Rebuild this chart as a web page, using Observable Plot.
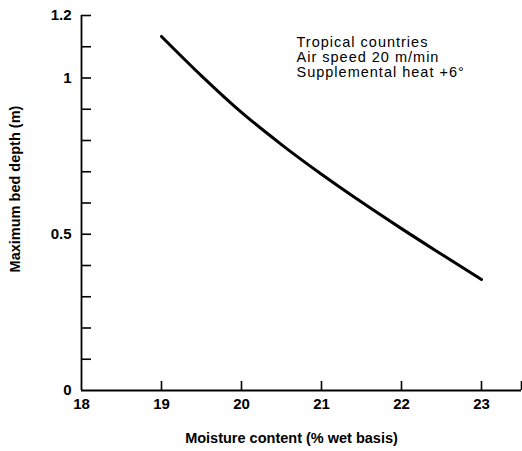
<!DOCTYPE html>
<html><head><meta charset="utf-8">
<script src="https://cdn.jsdelivr.net/npm/d3@7"></script>
<script src="https://cdn.jsdelivr.net/npm/@observablehq/plot@0.6"></script>
<style>
body{margin:0;background:#fff;}
svg{font-family:"Liberation Sans",Arial,sans-serif;}
</style>
</head><body><div id="chart"></div>
<script>
const moisture = [19, 19.5, 20, 20.5, 21, 21.5, 22, 22.5, 23];
const bedDepth = [1.133, 1.007, 0.890, 0.787, 0.692, 0.603, 0.518, 0.436, 0.355];
const xTickLabels = [18, 19, 20, 21, 22, 23];
const xTickMarks = [19, 20, 21, 22, 23, 23.5];
const yTickLabels = [0, 0.5, 1, 1.2];
const yTickMarks = [0.1,0.2,0.3,0.4,0.5,0.6,0.7,0.8,0.9,1.0,1.1,1.2];
const notes = ["Tropical countries", "Air speed 20 m/min", "Supplemental heat +6°"];
const xTitle = "Moisture content (% wet basis)";
const yTitle = "Maximum bed depth (m)";

const data = moisture.map((x, i) => ({x, y: bedDepth[i]}));

const chart = Plot.plot({
  width: 522, height: 451,
  marginLeft: 81, marginRight: 1, marginTop: 15, marginBottom: 61,
  style: {fontFamily: "'Liberation Sans', Arial, sans-serif", fontSize: "14px", color: "#000", background: "#fff"},
  x: {domain: [18, 23.5], label: null},
  y: {domain: [0, 1.2], label: null},
  marks: [
    Plot.axisX({ticks: xTickLabels, tickSize: 0, tickPadding: 8, fontSize: 15, fontWeight: "bold", tickFormat: d => String(d)}),
    Plot.axisY({ticks: yTickLabels, tickSize: 0, tickPadding: 10, fontSize: 15, fontWeight: "bold", tickFormat: d => String(d)}),
    Plot.tickY(yTickMarks, {y: d => d, insetRight: 430, stroke: "#000", strokeWidth: 1.6}),
    Plot.tickX(xTickMarks, {x: d => d, insetTop: 366, stroke: "#000", strokeWidth: 1.6}),
    Plot.ruleY([0], {stroke: "#000", strokeWidth: 1.8}),
    Plot.ruleX([18], {stroke: "#000", strokeWidth: 1.8}),
    Plot.line(data, {x: "x", y: "y", curve: "monotone-x", stroke: "#000", strokeWidth: 3}),
    Plot.text([notes.join("\n")], {text: d => d, frameAnchor: "top-left", dx: 215, dy: 21,
      fontSize: 14.5, lineHeight: 1.03, fill: "#000", textAnchor: "start", lineAnchor: "top"}),
    Plot.text([xTitle], {text: d => d, frameAnchor: "bottom", dx: -10, dy: 52, fontSize: 14.5, fontWeight: "bold", fill: "#000"}),
    Plot.text([yTitle], {text: d => d, frameAnchor: "left", dx: -66, dy: -14, rotate: -90, textAnchor: "middle", fontSize: 14.5, fontWeight: "bold", fill: "#000"})
  ]
});
d3.select(chart).selectAll("text")
  .filter(function() { return this.textContent.includes("Tropical"); })
  .attr("letter-spacing", "1px");
document.getElementById("chart").appendChild(chart);
</script>
</body></html>
